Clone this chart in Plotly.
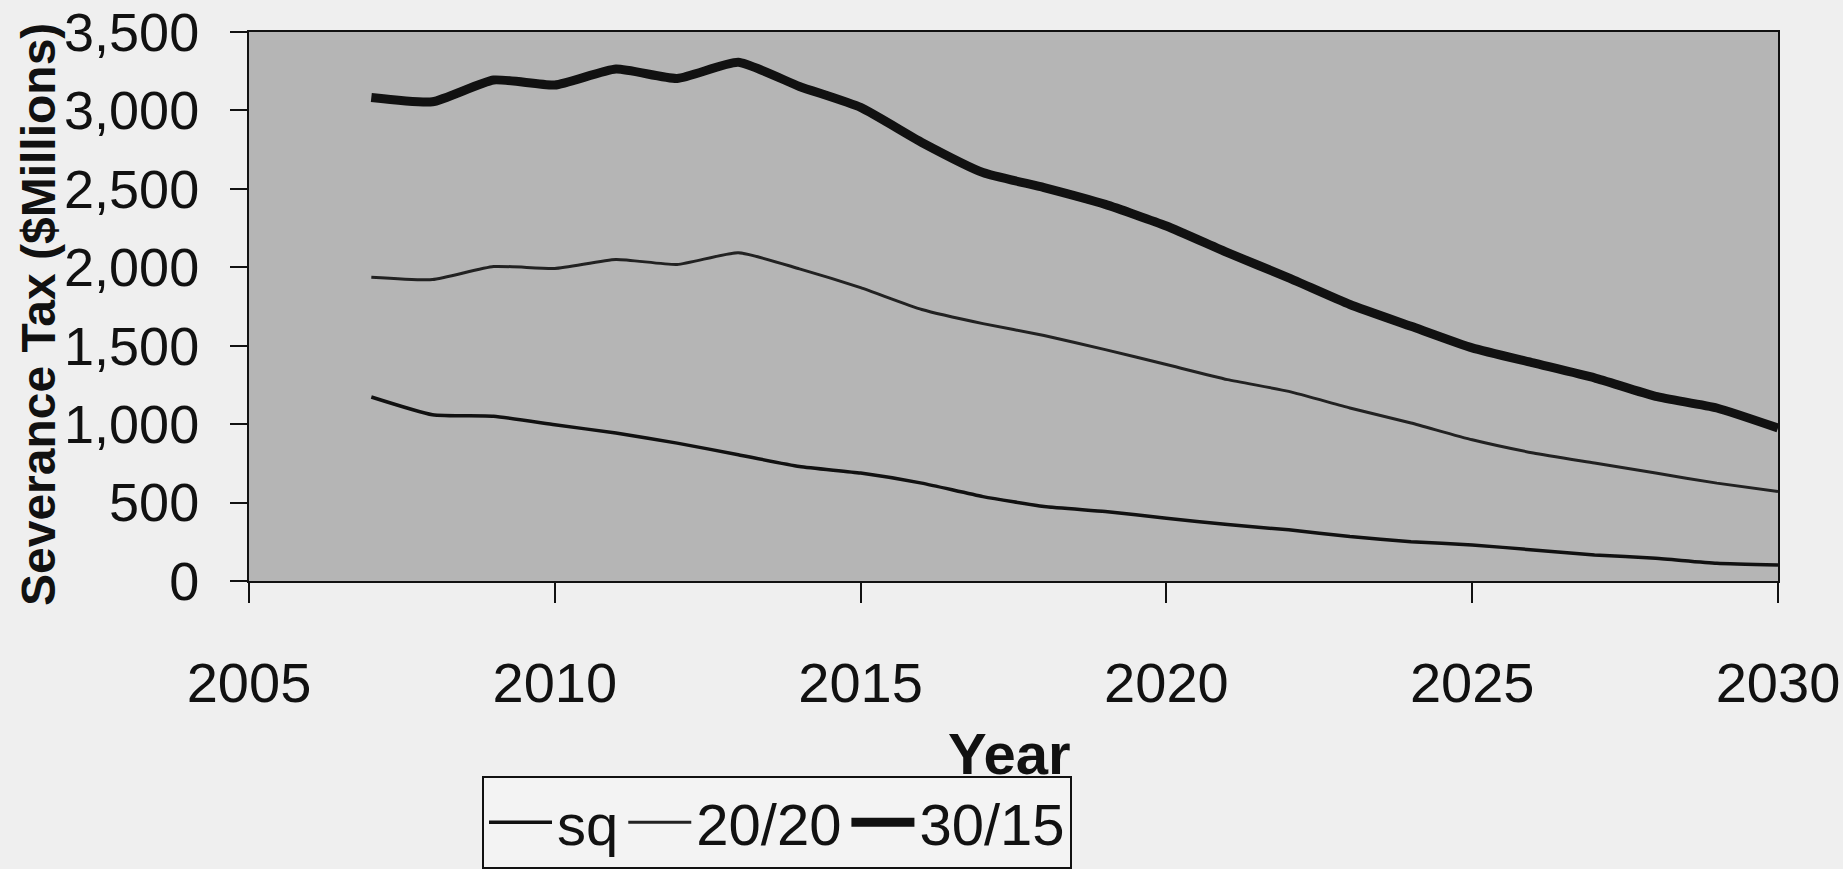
import plotly.graph_objects as go

years = list(range(2007, 2031))
sq = [1173, 1060, 1050, 996, 943, 879, 805, 730, 688, 624, 538, 475,
      443, 400, 360, 326, 283, 251, 230, 198, 166, 145, 113, 102]
s2020 = [1937, 1922, 2005, 1993, 2050, 2018, 2093, 1990, 1870, 1731, 1641, 1565,
         1475, 1380, 1284, 1209, 1103, 1007, 900, 816, 752, 688, 624, 570]
s3015 = [3083, 3055, 3194, 3162, 3264, 3204, 3307, 3153, 3019, 2796, 2604, 2508,
         2401, 2263, 2093, 1933, 1763, 1624, 1486, 1390, 1295, 1177, 1103, 975]

series_names = ["sq", "20/20", "30/15"]
x_ticks = [2005, 2010, 2015, 2020, 2025, 2030]
y_ticks = [0, 500, 1000, 1500, 2000, 2500, 3000, 3500]

NARROW = "Liberation Sans Narrow, Arial Narrow, Liberation Sans, Arial, sans-serif"
BOLD = "Liberation Sans, Arial, sans-serif"
INK = "#111111"

# the page's body margin is removed below, so the figure sits at (0, 0)
OFF = 0
W, H = 1843, 869
# plot area in page pixels
PL, PR, PT, PB = 249, 1778, 32, 581
L, T = PL - OFF, PT - OFF
R = W - (PR - OFF)
B = H - (PB - OFF)
PW, PH = W - L - R, H - T - B


def px_x(px):
    return (px - OFF - L) / PW


def px_y(py):
    return (H - B - (py - OFF)) / PH


fig = go.Figure()
fig.add_trace(go.Scatter(x=years, y=sq, name=series_names[0], mode="lines",
                         line=dict(color=INK, width=3.5, shape="spline", smoothing=0.5)))
fig.add_trace(go.Scatter(x=years, y=s2020, name=series_names[1], mode="lines",
                         line=dict(color="#222222", width=3, shape="spline", smoothing=0.5)))
fig.add_trace(go.Scatter(x=years, y=s3015, name=series_names[2], mode="lines",
                         line=dict(color=INK, width=9, shape="spline", smoothing=0.5)))

fig.update_layout(
    width=W, height=H,
    margin=dict(l=L, r=R, t=T, b=B, autoexpand=False),
    paper_bgcolor="#efefef",
    plot_bgcolor="#b5b5b5",
    font=dict(family=NARROW, color=INK, size=56),
    showlegend=True,
    legend=dict(
        orientation="h",
        x=px_x(482), y=px_y(776), xanchor="left", yanchor="top",
        bgcolor="#f3f3f3", bordercolor=INK, borderwidth=2,
        font=dict(family=NARROW, size=58, color=INK),
        itemwidth=63, tracegroupgap=0,
    ),
    xaxis=dict(
        range=[2005, 2030], tickvals=x_ticks, ticktext=[str(v) for v in x_ticks],
        showgrid=False, zeroline=False, automargin=False,
        showline=True, linecolor=INK, linewidth=2, mirror=True,
        ticks="outside", ticklen=20, tickwidth=2, tickcolor=INK,
        tickfont=dict(family=NARROW, size=56, color=INK),
        ticklabelstandoff=32, ticklabeloverflow="allow",
    ),
    yaxis=dict(
        range=[0, 3500], tickvals=y_ticks, tickformat=",d",
        showgrid=False, zeroline=False, automargin=False,
        showline=True, linecolor=INK, linewidth=2, mirror=True,
        ticks="outside", ticklen=17, tickwidth=2, tickcolor=INK,
        tickfont=dict(family=NARROW, size=54, color=INK),
        ticklabelstandoff=20, ticklabeloverflow="allow",
    ),
    annotations=[
        dict(text="<b>Severance Tax ($Millions)</b>", xref="paper", yref="paper",
             x=px_x(38), y=px_y(314), xanchor="center", yanchor="middle",
             textangle=-90, showarrow=False,
             font=dict(family=BOLD, size=48, color=INK)),
        dict(text="<b>Year</b>", xref="paper", yref="paper",
             x=px_x(1009), y=px_y(788), xanchor="center", yanchor="bottom",
             showarrow=False,
             font=dict(family=NARROW, size=58, color=INK)),
    ],
)

fig.write_html(
    "out.html",
    config={"displayModeBar": False},
    post_script="document.body.style.margin='0';document.body.style.background='#efefef';",
)
